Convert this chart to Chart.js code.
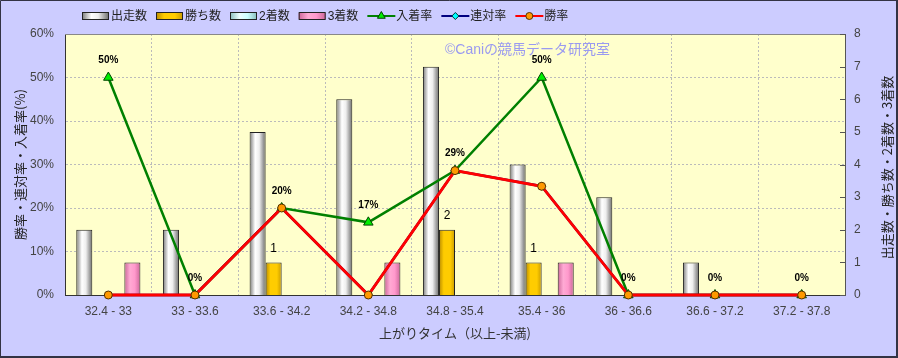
<!DOCTYPE html>
<html><head><meta charset="utf-8">
<script src="https://cdn.jsdelivr.net/npm/chart.js@4"></script>
<style>html,body{margin:0;padding:0;background:#CCCCFF}canvas{display:block}</style>
</head><body>
<canvas id="c" width="898" height="358"></canvas>
<script>
const categories = ['32.4 - 33','33 - 33.6','33.6 - 34.2','34.2 - 34.8','34.8 - 35.4','35.4 - 36','36 - 36.6','36.6 - 37.2','37.2 - 37.8'];
const runs = [2,2,5,6,7,4,3,1,0];
const wins = [0,0,1,0,2,1,0,0,0];
const seconds = [0,0,0,0,0,0,0,0,0];
const thirds = [1,0,0,1,0,1,0,0,0];
const placeRate = [50,0,20,16.7,28.6,50,0,0,0];
const quinellaRate = [0,0,20,0,28.6,25,0,0,0];
const winRate = [0,0,20,0,28.6,25,0,0,0];
const rateTicks = [0,10,20,30,40,50,60];
const countTicks = [0,1,2,3,4,5,6,7,8];
const rightTitle = '出走数・勝ち数・2着数・3着数';

const FONT = '"Liberation Sans","Noto Sans CJK JP",sans-serif';
const JPFONT = '"Noto Sans CJK JP","Liberation Sans",sans-serif';

const barGrad = {
  '出走数': [['0','#7a7a7a'],['0.35','#ffffff'],['0.6','#eeeeee'],['1','#6a6a6a']],
  '勝ち数': [['0','#b88a00'],['0.3','#ffcc00'],['0.7','#ffcc00'],['1','#c89a00']],
  '2着数': [['0','#88bbbb'],['0.35','#eeffff'],['0.65','#ccffff'],['1','#88bbbb']],
  '3着数': [['0','#cc6699'],['0.35','#ffaad4'],['0.65','#ff99cc'],['1','#cc6699']]
};

function makeBar(label, data) {
  return {
    type: 'bar', label, data, yAxisID: 'y2', order: 10,
    backgroundColor: '#cccccc', borderColor: '#222222',
    borderWidth: c => (c.raw === 0 ? 0 : 1),
    borderSkipped: 'start',
    categoryPercentage: 0.74, barPercentage: 1
  };
}

const datasets = [
  makeBar('出走数', runs),
  makeBar('勝ち数', wins),
  makeBar('2着数', seconds),
  makeBar('3着数', thirds),
  { type: 'line', label: '入着率', data: placeRate, yAxisID: 'y', order: 3,
    borderColor: '#008000', borderWidth: 2.5, pointStyle: 'triangle', pointRadius: 5.5,
    pointBackgroundColor: '#00ee00', pointBorderColor: '#004400', pointBorderWidth: 1, clip: false },
  { type: 'line', label: '連対率', data: quinellaRate, yAxisID: 'y', order: 2,
    borderColor: '#000080', borderWidth: 2.5, pointStyle: 'rectRot', pointRadius: 4,
    pointBackgroundColor: '#00ffff', pointBorderColor: '#003333', pointBorderWidth: 1, clip: false },
  { type: 'line', label: '勝率', data: winRate, yAxisID: 'y', order: 1,
    borderColor: '#ff0000', borderWidth: 2.8, pointStyle: 'circle', pointRadius: 4,
    pointBackgroundColor: '#ff9900', pointBorderColor: '#553300', pointBorderWidth: 1, clip: false }
];

function gradFor(ctx, name, x0, x1) {
  const g = ctx.createLinearGradient(x0, 0, x1, 0);
  barGrad[name].forEach(s => g.addColorStop(+s[0], s[1]));
  return g;
}

const decor = {
  id: 'decor',
  beforeDraw(chart) {
    const ctx = chart.ctx, a = chart.chartArea, W = chart.width, H = chart.height;
    ctx.save();
    ctx.fillStyle = '#CCCCFF';
    ctx.fillRect(0, 0, W, H);
    ctx.fillStyle = '#FFFFCC';
    ctx.fillRect(a.left, a.top, a.right - a.left, a.bottom - a.top);
    ctx.restore();
  },
  beforeDatasetsDraw(chart) {
    const ctx = chart.ctx, a = chart.chartArea;
    ctx.save();
    ctx.strokeStyle = '#888888'; ctx.lineWidth = 1;
    ctx.beginPath(); ctx.moveTo(a.left, a.top + 0.5); ctx.lineTo(a.right, a.top + 0.5); ctx.stroke();
    const y2 = chart.scales.y2;
    ctx.strokeStyle = '#555555';
    countTicks.forEach(v => {
      const y = Math.round(y2.getPixelForValue(v)) + 0.5;
      ctx.beginPath(); ctx.moveTo(a.right - 5, y); ctx.lineTo(a.right, y); ctx.stroke();
    });
    ctx.fillStyle = '#9a9af0';
    ctx.font = '14px ' + FONT;
    ctx.textBaseline = 'middle'; ctx.textAlign = 'left';
    ctx.fillText('©Caniの競馬データ研究室', 445, 50);
    // right axis title, reading bottom-to-top
    ctx.save();
    ctx.translate(887, (a.top + a.bottom) / 2 + 3);
    ctx.rotate(-Math.PI / 2);
    ctx.textAlign = 'center';
    ctx.fillStyle = '#222222';
    ctx.font = '13px ' + JPFONT;
    ctx.fillText(rightTitle, 0, 0);
    ctx.restore();
    ctx.restore();
    chart.data.datasets.forEach((ds, i) => {
      if (ds.type !== 'bar') return;
      const meta = chart.getDatasetMeta(i);
      meta.data.forEach(el => {
        const x0 = el.x - el.width / 2, x1 = el.x + el.width / 2;
        el.options = Object.assign({}, el.options, { backgroundColor: gradFor(ctx, ds.label, x0, x1) });
      });
    });
  },
  afterDatasetsDraw(chart) {
    const ctx = chart.ctx;
    ctx.save();
    ctx.fillStyle = '#000000';
    ctx.textAlign = 'center'; ctx.textBaseline = 'middle';
    const pm = chart.getDatasetMeta(4);
    ctx.font = 'bold 10px ' + FONT;
    pm.data.forEach((p, i) => {
      ctx.fillText(Math.round(placeRate[i]) + '%', p.x, p.y - 17);
    });
    const wm = chart.getDatasetMeta(1);
    ctx.font = '12px ' + FONT;
    wm.data.forEach((b, i) => {
      if (wins[i] > 0) ctx.fillText(String(wins[i]), b.x, b.y - 14);
    });
    ctx.restore();
  },
  afterDraw(chart) {
    const ctx = chart.ctx, W = chart.width, H = chart.height;
    ctx.save();
    let x = 82; const yc = 16;
    ctx.font = '12px ' + FONT;
    ctx.textBaseline = 'middle'; ctx.textAlign = 'left';
    chart.data.datasets.forEach(ds => {
      if (ds.type === 'bar') {
        ctx.fillStyle = gradFor(ctx, ds.label, x, x + 27);
        ctx.fillRect(x, yc - 3, 27, 6);
        ctx.strokeStyle = '#222222'; ctx.lineWidth = 1;
        ctx.strokeRect(x + 0.5, yc - 3.5, 26, 7);
      } else {
        ctx.strokeStyle = ds.borderColor; ctx.lineWidth = 2;
        ctx.beginPath(); ctx.moveTo(x, yc); ctx.lineTo(x + 28, yc); ctx.stroke();
        ctx.fillStyle = ds.pointBackgroundColor; ctx.strokeStyle = ds.pointBorderColor; ctx.lineWidth = 1;
        Chart.helpers.drawPoint(ctx, { pointStyle: ds.pointStyle, radius: ds.pointStyle === 'triangle' ? 4.5 : 3.5, rotation: 0, borderWidth: 1 }, x + 14, yc);
      }
      x += 29;
      ctx.fillStyle = '#222222';
      ctx.fillText(ds.label, x, yc + 1);
      x += ctx.measureText(ds.label).width + 9;
    });
    ctx.strokeStyle = '#333344'; ctx.lineWidth = 1;
    ctx.beginPath();
    ctx.moveTo(0.5, H); ctx.lineTo(0.5, 0.5); ctx.lineTo(W, 0.5); ctx.stroke();
    ctx.lineWidth = 2;
    ctx.beginPath(); ctx.moveTo(W - 1, 0); ctx.lineTo(W - 1, H - 1); ctx.lineTo(0, H - 1); ctx.stroke();
    ctx.restore();
  }
};

new Chart(document.getElementById('c'), {
  data: { labels: categories, datasets },
  options: {
    responsive: false, animation: false, devicePixelRatio: 1,
    layout: { padding: { top: 34, left: 0, right: 0, bottom: 0 } },
    plugins: { legend: { display: false }, tooltip: { enabled: false } },
    scales: {
      x: {
        offset: true,
        grid: { display: true, offset: true, color: '#bbbbbb', drawTicks: false },
        border: { display: true, color: '#333333', width: 1, dash: [2, 2] },
        ticks: { color: '#444444', font: { family: FONT, size: 12 }, padding: 9, maxRotation: 0, autoSkip: false },
        title: { display: true, text: '上がりタイム（以上-未満)', color: '#333333', font: { family: JPFONT, size: 13 }, padding: { top: 0, bottom: 17 } },
        afterFit: s => { s.height = 63; }
      },
      y: {
        position: 'left', min: 0, max: 60,
        afterBuildTicks: s => { s.ticks = rateTicks.map(v => ({ value: v })); },
        grid: { color: '#bbbbbb', drawTicks: false },
        border: { display: true, color: '#333333', width: 1, dash: [2, 2] },
        ticks: { color: '#444444', font: { family: FONT, size: 12 }, padding: 11, callback: v => v + '%' },
        title: { display: true, text: '勝率・連対率・入着率(%)', color: '#222222', font: { family: JPFONT, size: 13 }, padding: { top: 12, bottom: 0 } },
        afterFit: s => { s.width = 65; }
      },
      y2: {
        position: 'right', min: 0, max: 8,
        afterBuildTicks: s => { s.ticks = countTicks.map(v => ({ value: v })); },
        grid: { display: false, drawOnChartArea: false, drawTicks: false },
        border: { display: true, color: '#555555', width: 1 },
        ticks: { color: '#444444', font: { family: FONT, size: 12 }, padding: 9 },
        title: { display: false },
        afterFit: s => { s.width = 53; }
      }
    }
  },
  plugins: [decor]
});
</script>
</body></html>
